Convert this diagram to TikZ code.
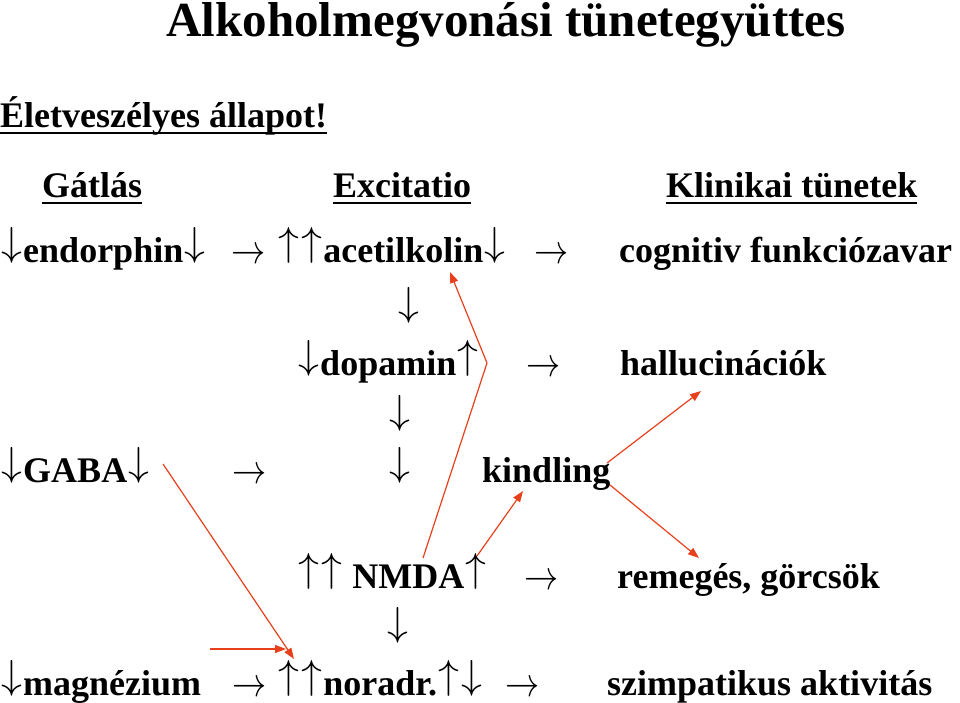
\documentclass[tikz,border=0pt]{standalone}
\usepackage{fontspec}
\usepackage{graphicx}
\setmainfont{Liberation Serif}
\usetikzlibrary{arrows.meta,calc}
\definecolor{redline}{RGB}{232,64,28}
\newcommand\vglyph[1]{\kern0.03em\raisebox{0.19em}{\resizebox{0.58em}{0.78em}{$#1$}}\kern0.03em}
\newcommand\U{\vglyph{\uparrow}}
\newcommand\D{\vglyph{\downarrow}}
\newcommand\R{\raisebox{-0.03em}{\scalebox{1}[1.2]{\resizebox{0.95em}{!}{$\rightarrow$}}}}
\begin{document}
\begin{tikzpicture}[x=1pt,y=-1pt,
  txt/.style={anchor=base west,inner sep=0pt,font=\fontsize{36}{40}\selectfont\bfseries},
  ttl/.style={anchor=base,inner sep=0pt,font=\fontsize{49}{54}\selectfont\bfseries},
  varr/.style={anchor=base,inner sep=0pt,font=\fontsize{36}{40}\selectfont},
  uline/.style={line width=1.8pt},
  rcon/.style={draw=redline,line width=1.2pt,-{Triangle[length=11pt,width=8pt]}},
]
\useasboundingbox (0,0) rectangle (960,703);
% title and headings
\node[ttl] (title) at (506,37) {Alkoholmegvonási tünetegyüttes};
\node[txt] (life) at (0,128) {Életveszélyes állapot!};
\node[txt] (h1) at (42,198) {Gátlás};
\node[txt] (h2) at (333,198) {Excitatio};
\node[txt] (h3) at (666,198) {Klinikai tünetek};
\foreach \n in {life,h1,h2,h3}
  \draw[uline] ($(\n.base west)+(0,5)$) -- ($(\n.base east)+(0,5)$);
% row 1
\node[txt] (endo) at (0,262) {\D endorphin\D};
\node[txt] (ra1) at (231,262) {\R};
\node[txt] (ach) at (277,262) {\U\U acetilkolin\D};
\node[txt] (ra2) at (534,262) {\R};
\node[txt] (cog) at (619,262) {cognitiv funkciózavar};
\node[varr] (v1) at (409,322) {\D};
% row 2
\node[txt] (dop) at (297,375) {\D dopamin\U};
\node[txt] (ra3) at (526,375) {\R};
\node[txt] (hal) at (620,375) {hallucinációk};
\node[varr] (v2) at (400,430) {\D};
% row 3
\node[txt] (gaba) at (0,482) {\D GABA\D};
\node[txt] (ra4) at (232,482) {\R};
\node[varr] (v3) at (400,482) {\D};
\node[txt] (kin) at (482,482) {kindling};
% row 4
\node[txt] (nmda) at (297,588) {\U\U\ NMDA\U};
\node[txt] (ra5) at (524,588) {\R};
\node[txt] (rem) at (617,588) {remegés, görcsök};
\node[varr] (v4) at (398,642) {\D};
% row 5
\node[txt] (mag) at (0,695) {\D magnézium};
\node[txt] (ra6) at (232,695) {\R};
\node[txt] (nor) at (277,695) {\U\U noradr.\U\D};
\node[txt] (ra7) at (505,695) {\R};
\node[txt] (szi) at (607,695) {szimpatikus aktivitás};
% red connectors
\coordinate (r1s) at (423,558);
\coordinate (r1k) at (487,363);
\coordinate (r1e) at (450,272);
\coordinate (r2s) at (477,556);
\coordinate (r2e) at (523,491);
\coordinate (r3s) at (607,463);
\coordinate (r3e) at (701,391);
\coordinate (r4s) at (610,485);
\coordinate (r4e) at (699,558);
\coordinate (r5s) at (163,464);
\coordinate (r5e) at (294,659);
\coordinate (r6s) at (210,649);
\coordinate (r6e) at (286,649);
\draw[rcon] (r1s) -- (r1k) -- (r1e);
\draw[rcon] (r2s) -- (r2e);
\draw[rcon] (r3s) -- (r3e);
\draw[rcon] (r4s) -- (r4e);
\draw[rcon] (r5s) -- (r5e);
\draw[rcon] (r6s) -- (r6e);
\end{tikzpicture}
\end{document}
